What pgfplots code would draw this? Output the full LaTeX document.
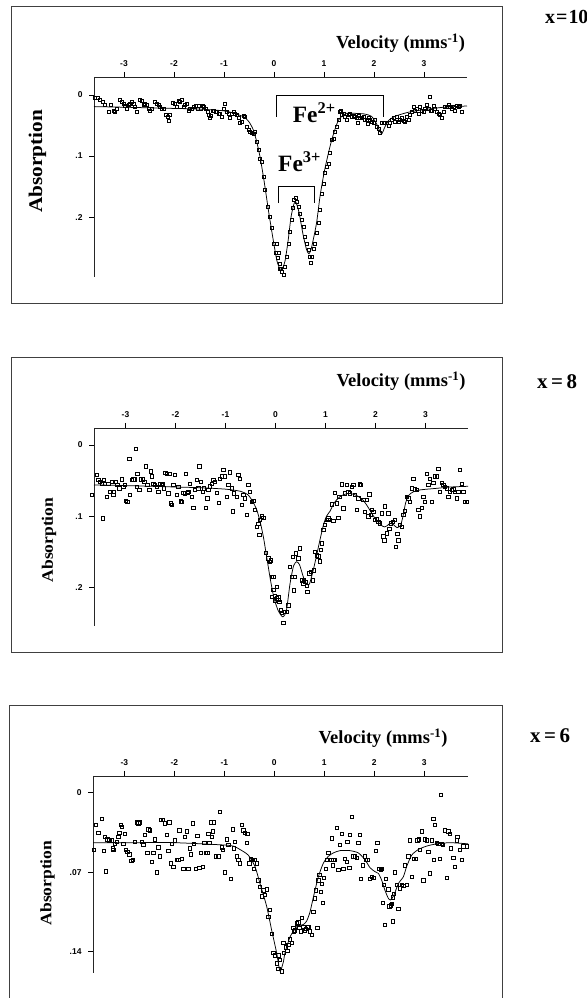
\documentclass[border=0pt]{standalone}
\usepackage{fontspec}
\setmainfont{Liberation Serif}
\newfontfamily\tickfont{Liberation Sans}
\newfontfamily\absfont[FakeStretch=1.1]{Liberation Serif}
\usepackage{pgfplots}
\pgfplotsset{compat=1.18}
\pgfplotsset{
  moss/.style={
    scale only axis,
    y dir=reverse,
    axis x line=top,
    axis y line=left,
    axis line style={-, line width=0.8bp, black!85},
    tick align=outside,
    major tick length=5bp,
    every tick/.style={black, line width=0.7bp},
    xtick={-3,-2,-1,0,1,2,3},
    xticklabels={-3,-2,-1,0,1,2,3},
    ticklabel style={font=\tickfont\bfseries\fontsize{8.5}{9}\selectfont},
    xticklabel style={yshift=1.5bp},
    yticklabel style={xshift=-3bp},
    clip=false,
  },
  dat/.style={only marks, mark=square, mark size=1.7bp, mark options={line width=0.5bp, solid}, black},
  fit/.style={no marks, black, line width=0.75bp, smooth, tension=0.4},
}
\begin{document}
\begin{tikzpicture}[x=1bp,y=1bp]
\useasboundingbox (0,0) rectangle (587,998);
\draw[line width=1bp, black!75] (11,991) rectangle (502,694);
\draw[line width=1bp, black!75] (11,640) rectangle (502,345);
\draw[line width=1bp, black!75] (9,-2) -- (9,292) -- (502,292) -- (502,-2);

% ---------------- Panel 1 : x = 10
\begin{axis}[moss, at={(280.5bp,821bp)}, anchor=center, width=373bp, height=200bp,
  xmin=-3.6, xmax=3.86, ymin=-0.0295, ymax=0.298,
  ytick={0,0.1,0.2}, yticklabels={0,.1,.2}]
\addplot[fit] coordinates {(-3.6,0.019) (-3.0,0.020) (-2.5,0.021) (-2.0,0.022) (-1.5,0.023) (-1.0,0.026) (-0.8,0.030) (-0.6,0.036) (-0.5,0.044) (-0.42,0.056) (-0.35,0.075) (-0.28,0.101) (-0.2,0.140) (-0.1,0.195) (0.0,0.245) (0.06,0.272) (0.12,0.285) (0.17,0.284) (0.22,0.272) (0.28,0.240) (0.34,0.200) (0.40,0.178) (0.44,0.176) (0.50,0.192) (0.58,0.228) (0.65,0.253) (0.70,0.260) (0.75,0.250) (0.85,0.210) (0.92,0.166) (1.0,0.128) (1.08,0.098) (1.153,0.074) (1.22,0.056) (1.29,0.041) (1.38,0.033) (1.45,0.030) (1.6,0.030) (1.8,0.031) (1.95,0.035) (2.05,0.047) (2.12,0.060) (2.16,0.063) (2.22,0.052) (2.3,0.041) (2.45,0.034) (2.7,0.028) (3.0,0.024) (3.4,0.020) (3.86,0.018)};
\addplot[dat, mark size=1.5bp] coordinates {(-3.58,0.005) (-3.533,0.005) (-3.48,0.008) (-3.427,0.011) (-3.38,0.016) (-3.313,0.027) (-3.267,0.016) (-3.213,0.025) (-3.18,0.027) (-3.147,0.023) (-3.093,0.007) (-3.047,0.011) (-3.013,0.014) (-2.98,0.018) (-2.947,0.022) (-2.913,0.016) (-2.88,0.014) (-2.847,0.011) (-2.813,0.015) (-2.78,0.019) (-2.747,0.027) (-2.68,0.007) (-2.647,0.009) (-2.613,0.016) (-2.58,0.015) (-2.547,0.016) (-2.513,0.022) (-2.48,0.026) (-2.447,0.023) (-2.38,0.011) (-2.347,0.014) (-2.313,0.016) (-2.28,0.019) (-2.247,0.023) (-2.213,0.022) (-2.16,0.033) (-2.133,0.035) (-2.113,0.042) (-2.08,0.033) (-2.027,0.013) (-1.98,0.015) (-1.947,0.019) (-1.913,0.009) (-1.88,0.011) (-1.847,0.008) (-1.813,0.019) (-1.78,0.016) (-1.747,0.014) (-1.713,0.025) (-1.68,0.022) (-1.647,0.022) (-1.6,0.020) (-1.56,0.018) (-1.533,0.022) (-1.5,0.018) (-1.467,0.023) (-1.427,0.018) (-1.4,0.019) (-1.36,0.022) (-1.333,0.027) (-1.313,0.033) (-1.293,0.038) (-1.267,0.034) (-1.227,0.026) (-1.2,0.025) (-1.173,0.027) (-1.147,0.027) (-1.113,0.030) (-1.08,0.031) (-1.047,0.035) (-1.013,0.022) (-0.98,0.015) (-0.947,0.027) (-0.913,0.030) (-0.88,0.038) (-0.847,0.030) (-0.813,0.027) (-0.78,0.030) (-0.747,0.033) (-0.713,0.038) (-0.68,0.046) (-0.647,0.044) (-0.613,0.034) (-0.58,0.035) (-0.547,0.052) (-0.513,0.057) (-0.48,0.060) (-0.447,0.062) (-0.413,0.063) (-0.38,0.060) (-0.347,0.076) (-0.313,0.090) (-0.28,0.104) (-0.247,0.109) (-0.213,0.134) (-0.18,0.155) (-0.133,0.183) (-0.093,0.199) (-0.047,0.218) (-0.013,0.243) (0.04,0.259) (0.067,0.267) (0.107,0.284)
(0.053,0.243) (0.087,0.259) (0.107,0.276) (0.133,0.284) (0.16,0.289) (0.187,0.295) (0.22,0.281) (0.253,0.265) (0.287,0.243) (0.32,0.224) (0.353,0.205) (0.373,0.185) (0.4,0.172) (0.427,0.169) (0.453,0.175) (0.487,0.183) (0.52,0.194) (0.553,0.205) (0.587,0.215) (0.62,0.232) (0.653,0.243) (0.687,0.254) (0.707,0.265) (0.733,0.274) (0.753,0.265) (0.787,0.251) (0.82,0.243) (0.853,0.226) (0.887,0.210) (0.92,0.188) (0.953,0.161) (0.987,0.145) (1.02,0.128) (1.053,0.117) (1.087,0.112) (1.12,0.095) (1.153,0.074) (1.187,0.071) (1.22,0.060) (1.253,0.052) (1.287,0.041) (1.307,0.027) (1.333,0.025) (1.353,0.033) (1.387,0.030) (1.42,0.035) (1.453,0.041) (1.487,0.033) (1.52,0.030) (1.553,0.035) (1.587,0.034) (1.62,0.035) (1.653,0.038) (1.667,0.046) (1.687,0.034) (1.72,0.037) (1.753,0.038) (1.787,0.035) (1.82,0.041) (1.853,0.040) (1.867,0.047) (1.887,0.037) (1.92,0.041) (1.953,0.044) (1.987,0.046) (2.02,0.041) (2.053,0.052) (2.087,0.055) (2.12,0.062) (2.153,0.046) (2.187,0.045) (2.22,0.046) (2.253,0.045) (2.287,0.051) (2.32,0.046) (2.353,0.041) (2.387,0.038) (2.42,0.044) (2.453,0.035) (2.487,0.044) (2.52,0.041) (2.553,0.038) (2.587,0.042) (2.62,0.044) (2.653,0.035) (2.687,0.040) (2.72,0.033) (2.753,0.027) (2.787,0.019) (2.82,0.025) (2.853,0.022) (2.887,0.030) (2.92,0.020) (2.953,0.025) (2.987,0.027) (3.02,0.023) (3.053,0.016) (3.087,0.022) (3.107,0.003) (3.133,0.025) (3.153,0.026) (3.187,0.018) (3.22,0.022) (3.253,0.027) (3.287,0.030) (3.32,0.033) (3.353,0.038) (3.387,0.027) (3.42,0.020) (3.453,0.019) (3.487,0.016) (3.52,0.019) (3.553,0.022) (3.587,0.019) (3.62,0.025) (3.653,0.018) (3.687,0.020) (3.72,0.018) (3.753,0.027)};
\draw[line width=0.9bp] (axis cs:0.054,0.036) -- (axis cs:0.054,0) -- (axis cs:2.186,0) -- (axis cs:2.186,0.036);
\draw[line width=0.9bp] (axis cs:0.086,0.177) -- (axis cs:0.086,0.149) -- (axis cs:0.806,0.149) -- (axis cs:0.806,0.177);
\node[anchor=base west, inner sep=0, font=\bfseries\fontsize{23.5}{24}\selectfont] at (axis cs:0.374,0.0458) {Fe\textsuperscript{2+}};
\node[anchor=base west, inner sep=0, font=\bfseries\fontsize{23.5}{24}\selectfont] at (axis cs:0.08,0.126) {Fe\textsuperscript{3+}};
\end{axis}
\node[font=\bfseries\fontsize{18.5}{20}\selectfont] at (400.5,955) {Velocity (mms\textsuperscript{-1})};
\node[font=\bfseries\fontsize{20}{21}\selectfont, anchor=west, inner sep=0] at (545,981) {x\hspace{1bp}=\hspace{1bp}10};
\node[rotate=90, font=\absfont\bfseries\fontsize{19.4}{20}\selectfont] at (37.5,836.5) {Absorption};

% ---------------- Panel 2 : x = 8
\begin{axis}[moss, at={(281bp,471bp)}, anchor=center, width=374bp, height=198bp,
  xmin=-3.63, xmax=3.85, ymin=-0.0239, ymax=0.2542,
  ytick={0,0.1,0.2}, yticklabels={0,.1,.2}]
\addplot[fit] coordinates {(-3.63,0.056) (-3.0,0.057) (-2.5,0.058) (-2.0,0.059) (-1.5,0.060) (-1.0,0.062) (-0.7,0.065) (-0.55,0.070) (-0.45,0.080) (-0.37,0.092) (-0.3,0.110) (-0.24,0.13) (-0.17,0.160) (-0.1,0.190) (-0.03,0.215) (0.05,0.232) (0.12,0.240) (0.16,0.241) (0.22,0.232) (0.29,0.195) (0.36,0.170) (0.42,0.164) (0.48,0.168) (0.56,0.186) (0.63,0.196) (0.68,0.195) (0.74,0.180) (0.8,0.162) (0.89,0.133) (0.96,0.112) (1.02,0.100) (1.09,0.093) (1.16,0.083) (1.223,0.077) (1.30,0.072) (1.357,0.070) (1.45,0.068) (1.55,0.069) (1.65,0.072) (1.757,0.078) (1.83,0.085) (1.9,0.093) (1.97,0.101) (2.04,0.107) (2.12,0.113) (2.18,0.115) (2.24,0.113) (2.29,0.110) (2.36,0.112) (2.43,0.116) (2.5,0.113) (2.55,0.100) (2.6,0.082) (2.66,0.071) (2.75,0.066) (2.9,0.063) (3.2,0.061) (3.5,0.059) (3.85,0.058)};
\addplot[dat] coordinates {(-3.677,0.070) (-3.577,0.042) (-3.543,0.049) (-3.51,0.052) (-3.477,0.054) (-3.457,0.103) (-3.43,0.049) (-3.41,0.054) (-3.377,0.073) (-3.343,0.054) (-3.31,0.066) (-3.277,0.052) (-3.243,0.070) (-3.23,0.066) (-3.19,0.052) (-3.163,0.056) (-3.123,0.061) (-3.077,0.048) (-3.043,0.059) (-3.01,0.056) (-2.99,0.078) (-2.963,0.080) (-2.923,0.019) (-2.91,0.070) (-2.877,0.049) (-2.843,0.048) (-2.81,0.048) (-2.79,0.005) (-2.777,0.059) (-2.763,0.040) (-2.723,0.063) (-2.697,0.048) (-2.657,0.048) (-2.623,0.052) (-2.59,0.030) (-2.563,0.056) (-2.523,0.063) (-2.497,0.037) (-2.47,0.044) (-2.443,0.054) (-2.41,0.056) (-2.377,0.059) (-2.343,0.066) (-2.31,0.054) (-2.277,0.056) (-2.257,0.054) (-2.23,0.061) (-2.203,0.039) (-2.177,0.040) (-2.143,0.068) (-2.123,0.040) (-2.097,0.082) (-2.077,0.084) (-2.043,0.056) (-2.01,0.042) (-1.977,0.070) (-1.943,0.059) (-1.897,0.079) (-1.877,0.080) (-1.843,0.067) (-1.81,0.068) (-1.79,0.040) (-1.763,0.067) (-1.743,0.066) (-1.71,0.054) (-1.677,0.073) (-1.643,0.088) (-1.61,0.063) (-1.577,0.049) (-1.543,0.061) (-1.523,0.030) (-1.497,0.052) (-1.457,0.066) (-1.43,0.061) (-1.39,0.088) (-1.363,0.075) (-1.343,0.063) (-1.31,0.058) (-1.277,0.054) (-1.243,0.049) (-1.21,0.052) (-1.177,0.067) (-1.137,0.081) (-1.11,0.047) (-1.077,0.044) (-1.043,0.035) (-1.01,0.044) (-0.977,0.073) (-0.943,0.056) (-0.91,0.038) (-0.877,0.061) (-0.857,0.093) (-0.83,0.068) (-0.777,0.073) (-0.743,0.042) (-0.71,0.047) (-0.677,0.084) (-0.643,0.070) (-0.61,0.075) (-0.577,0.098) (-0.543,0.056) (-0.51,0.066) (-0.477,0.080) (-0.443,0.078) (-0.41,0.091) (-0.377,0.115) (-0.343,0.111) (-0.31,0.105) (-0.277,0.100) (-0.243,0.102) (-0.323,0.126) (-0.19,0.151) (-0.143,0.159) (-0.11,0.164) (-0.077,0.185) (-0.043,0.203) (-0.01,0.212) (0.023,0.215) (0.057,0.217)
(-0.097,0.162) (-0.077,0.213) (-0.043,0.185) (-0.01,0.218) (0.023,0.199) (0.057,0.213) (0.077,0.220) (0.103,0.232) (0.13,0.236) (0.157,0.250) (0.19,0.234) (0.223,0.234) (0.257,0.225) (0.29,0.171) (0.323,0.185) (0.343,0.157) (0.37,0.204) (0.39,0.185) (0.41,0.152) (0.457,0.159) (0.49,0.145) (0.523,0.190) (0.557,0.194) (0.57,0.190) (0.597,0.192) (0.623,0.198) (0.637,0.206) (0.677,0.180) (0.703,0.178) (0.743,0.190) (0.77,0.176) (0.79,0.150) (0.823,0.155) (0.857,0.156) (0.89,0.163) (0.903,0.147) (0.923,0.138) (0.957,0.119) (0.99,0.112) (1.023,0.105) (1.057,0.103) (1.09,0.105) (1.123,0.083) (1.157,0.106) (1.19,0.067) (1.223,0.082) (1.257,0.102) (1.277,0.073) (1.323,0.055) (1.357,0.089) (1.39,0.068) (1.423,0.056) (1.457,0.066) (1.49,0.068) (1.523,0.059) (1.557,0.056) (1.59,0.070) (1.623,0.091) (1.657,0.075) (1.69,0.055) (1.71,0.056) (1.757,0.077) (1.79,0.094) (1.823,0.077) (1.857,0.100) (1.877,0.069) (1.903,0.098) (1.923,0.091) (1.957,0.094) (1.99,0.105) (2.023,0.104) (2.057,0.108) (2.09,0.110) (2.123,0.096) (2.157,0.128) (2.177,0.134) (2.19,0.086) (2.223,0.124) (2.257,0.096) (2.277,0.118) (2.303,0.110) (2.343,0.108) (2.39,0.105) (2.41,0.143) (2.437,0.125) (2.457,0.134) (2.49,0.112) (2.523,0.115) (2.557,0.098) (2.59,0.092) (2.623,0.073) (2.657,0.075) (2.69,0.080) (2.723,0.061) (2.757,0.047) (2.79,0.062) (2.823,0.063) (2.857,0.091) (2.89,0.100) (2.923,0.088) (2.957,0.073) (2.99,0.080) (3.023,0.040) (3.057,0.056) (3.09,0.047) (3.123,0.080) (3.157,0.053) (3.19,0.044) (3.223,0.044) (3.257,0.033) (3.29,0.066) (3.323,0.053) (3.357,0.056) (3.39,0.059) (3.423,0.061) (3.457,0.073) (3.49,0.066) (3.523,0.063) (3.557,0.062) (3.59,0.066) (3.623,0.075) (3.657,0.066) (3.69,0.035) (3.723,0.054) (3.757,0.066) (3.79,0.080) (3.823,0.080)};
\end{axis}
\node[font=\bfseries\fontsize{18.5}{20}\selectfont] at (401,617) {Velocity (mms\textsuperscript{-1})};
\node[font=\bfseries\fontsize{21}{22}\selectfont, anchor=west, inner sep=0] at (537,616) {x\,=\,8};
\node[rotate=90, font=\absfont\bfseries\fontsize{16}{17}\selectfont] at (49,458) {Absorption};

% ---------------- Panel 3 : x = 6
\begin{axis}[moss, at={(280.5bp,123.5bp)}, anchor=center, width=375bp, height=197bp,
  xmin=-3.626, xmax=3.874, ymin=-0.0147, ymax=0.1587,
  ytick={0,0.07,0.14}, yticklabels={0,.07,.14}]
\addplot[fit] coordinates {(-3.626,0.044) (-3.0,0.044) (-2.0,0.044) (-1.02,0.046) (-0.82,0.047) (-0.686,0.050) (-0.52,0.055) (-0.386,0.065) (-0.286,0.080) (-0.153,0.100) (-0.053,0.121) (0.047,0.141) (0.114,0.157) (0.181,0.149) (0.214,0.141) (0.314,0.127) (0.447,0.118) (0.581,0.116) (0.647,0.113) (0.714,0.105) (0.781,0.092) (0.881,0.074) (0.981,0.062) (1.081,0.056) (1.181,0.053) (1.314,0.051) (1.514,0.051) (1.681,0.053) (1.814,0.059) (1.914,0.066) (2.014,0.0695) (2.081,0.071) (2.147,0.077) (2.214,0.086) (2.281,0.093) (2.327,0.0944) (2.394,0.090) (2.481,0.080) (2.581,0.074) (2.647,0.065) (2.747,0.055) (2.881,0.050) (3.047,0.047) (3.247,0.045) (3.514,0.044) (3.874,0.045)};
\addplot[dat] coordinates {(-3.606,0.050) (-3.566,0.028) (-3.519,0.035) (-3.453,0.023) (-3.406,0.051) (-3.386,0.039) (-3.366,0.069) (-3.339,0.041) (-3.299,0.042) (-3.253,0.042) (-3.233,0.049) (-3.219,0.050) (-3.186,0.045) (-3.153,0.043) (-3.119,0.039) (-3.099,0.035) (-3.073,0.028) (-3.053,0.030) (-3.019,0.045) (-2.986,0.036) (-2.966,0.050) (-2.939,0.052) (-2.899,0.054) (-2.859,0.060) (-2.833,0.059) (-2.786,0.043) (-2.753,0.026) (-2.719,0.027) (-2.686,0.026) (-2.653,0.043) (-2.619,0.046) (-2.586,0.037) (-2.539,0.053) (-2.519,0.032) (-2.486,0.033) (-2.453,0.061) (-2.419,0.053) (-2.386,0.041) (-2.353,0.070) (-2.319,0.048) (-2.286,0.056) (-2.273,0.024) (-2.233,0.024) (-2.186,0.027) (-2.153,0.037) (-2.119,0.051) (-2.099,0.026) (-2.073,0.062) (-2.046,0.045) (-2.019,0.065) (-1.986,0.042) (-1.953,0.059) (-1.919,0.059) (-1.899,0.033) (-1.853,0.058) (-1.819,0.067) (-1.786,0.039) (-1.753,0.034) (-1.719,0.067) (-1.686,0.049) (-1.673,0.054) (-1.633,0.027) (-1.606,0.045) (-1.566,0.067) (-1.539,0.038) (-1.499,0.066) (-1.466,0.053) (-1.433,0.065) (-1.399,0.044) (-1.366,0.053) (-1.339,0.053) (-1.319,0.036) (-1.299,0.044) (-1.273,0.026) (-1.253,0.039) (-1.233,0.034) (-1.206,0.026) (-1.166,0.056) (-1.119,0.056) (-1.086,0.017) (-1.053,0.048) (-1.033,0.050) (-0.986,0.070) (-0.953,0.041) (-0.919,0.046) (-0.873,0.076) (-0.833,0.032) (-0.806,0.049) (-0.786,0.043) (-0.753,0.056) (-0.719,0.059) (-0.686,0.062) (-0.653,0.028) (-0.619,0.033) (-0.586,0.035) (-0.553,0.044) (-0.539,0.036) (-0.499,0.062) (-0.473,0.058) (-0.433,0.059) (-0.406,0.067) (-0.386,0.059) (-0.353,0.062) (-0.319,0.077) (-0.286,0.083) (-0.253,0.091) (-0.219,0.086) (-0.186,0.090) (-0.153,0.085) (-0.119,0.109) (-0.086,0.103) (-0.053,0.124) (-0.019,0.141) (0.014,0.143) (0.047,0.150) (0.081,0.143)
(0.081,0.155) (0.114,0.147) (0.147,0.157) (0.181,0.132) (0.194,0.141) (0.234,0.136) (0.261,0.139) (0.281,0.134) (0.314,0.129) (0.347,0.132) (0.381,0.119) (0.394,0.122) (0.414,0.121) (0.447,0.115) (0.481,0.114) (0.501,0.119) (0.527,0.122) (0.547,0.110) (0.581,0.118) (0.614,0.121) (0.634,0.120) (0.661,0.118) (0.681,0.118) (0.714,0.122) (0.747,0.125) (0.781,0.105) (0.814,0.093) (0.834,0.086) (0.861,0.119) (0.881,0.077) (0.901,0.072) (0.927,0.087) (0.947,0.080) (0.967,0.097) (0.994,0.075) (1.034,0.067) (1.061,0.059) (1.081,0.053) (1.114,0.059) (1.147,0.040) (1.167,0.064) (1.181,0.059) (1.214,0.059) (1.247,0.031) (1.281,0.068) (1.314,0.046) (1.347,0.036) (1.381,0.067) (1.414,0.058) (1.447,0.061) (1.461,0.043) (1.501,0.066) (1.514,0.037) (1.547,0.021) (1.581,0.056) (1.614,0.056) (1.647,0.057) (1.681,0.044) (1.714,0.037) (1.727,0.076) (1.767,0.064) (1.814,0.056) (1.834,0.059) (1.861,0.059) (1.914,0.076) (1.947,0.074) (1.994,0.075) (2.034,0.051) (2.061,0.044) (2.101,0.067) (2.127,0.068) (2.147,0.067) (2.167,0.097) (2.194,0.081) (2.214,0.116) (2.234,0.076) (2.281,0.085) (2.301,0.100) (2.327,0.099) (2.347,0.098) (2.367,0.092) (2.367,0.113) (2.394,0.089) (2.414,0.070) (2.447,0.081) (2.481,0.102) (2.514,0.084) (2.547,0.081) (2.581,0.082) (2.614,0.064) (2.647,0.081) (2.681,0.056) (2.714,0.042) (2.747,0.074) (2.794,0.058) (2.834,0.058) (2.861,0.042) (2.887,0.041) (2.914,0.050) (2.947,0.034) (2.981,0.077) (3.014,0.041) (3.047,0.042) (3.081,0.052) (3.114,0.071) (3.147,0.042) (3.181,0.023) (3.194,0.059) (3.214,0.028) (3.247,0.044) (3.281,0.045) (3.314,0.058) (3.327,0.002) (3.347,0.045) (3.367,0.046) (3.414,0.033) (3.447,0.075) (3.481,0.034) (3.514,0.036) (3.534,0.049) (3.581,0.057) (3.614,0.065) (3.647,0.042) (3.661,0.039) (3.714,0.050) (3.747,0.059) (3.781,0.047) (3.847,0.047)};
\end{axis}
\node[font=\bfseries\fontsize{18.5}{20}\selectfont] at (383,260) {Velocity (mms\textsuperscript{-1})};
\node[font=\bfseries\fontsize{21}{22}\selectfont, anchor=west, inner sep=0] at (530,262) {x\,=\,6};
\node[rotate=90, font=\absfont\bfseries\fontsize{16}{17}\selectfont] at (47.5,115) {Absorption};
\end{tikzpicture}
\end{document}
